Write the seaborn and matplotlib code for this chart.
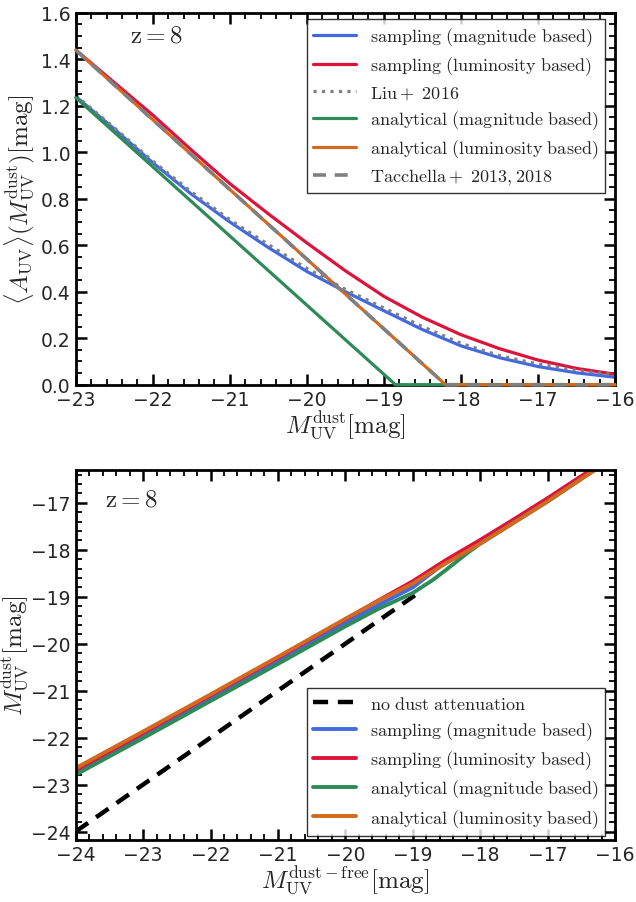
import numpy as np
import pandas as pd
import matplotlib
matplotlib.use("Agg")
import matplotlib.pyplot as plt
import seaborn as sns
from matplotlib.ticker import MultipleLocator

# ---- top panel: mean attenuation vs dust-attenuated magnitude (z=8)
m_dust = [-23, -22.5, -22, -21.5, -21, -20.5, -20, -19.5, -19, -18.5, -18, -17.5, -17, -16.5, -16]
a_samp_mag = [1.24, 1.10, 0.955, 0.82, 0.70, 0.59, 0.487, 0.40, 0.318, 0.237, 0.167, 0.116, 0.078, 0.051, 0.032]
a_samp_lum = [1.44, 1.30, 1.16, 1.01, 0.865, 0.735, 0.61, 0.49, 0.38, 0.29, 0.215, 0.155, 0.106, 0.07, 0.045]
a_liu = [1.245, 1.105, 0.962, 0.83, 0.71, 0.603, 0.50, 0.41, 0.33, 0.25, 0.178, 0.125, 0.089, 0.062, 0.042]

m_ana_mag = [-23, -18.85, -16]
a_ana_mag = [1.235, 0.0, 0.0]
m_ana_lum = [-23, -18.2, -16]
a_ana_lum = [1.44, 0.0, 0.0]
m_tacc = [-23, -18.2, -16]
a_tacc = [1.44, 0.0, 0.0]

# ---- bottom panel: dust-attenuated vs dust-free magnitude
m_free = [-24, -23, -22, -21, -20, -19.5, -19, -18.5, -18, -17.5, -17, -16.5, -16]
md_samp_mag = [-22.73, -21.94, -21.15, -20.36, -19.55, -19.17, -18.80, -18.25, -17.82, -17.37, -16.92, -16.45, -15.98]
md_samp_lum = [-22.69, -21.90, -21.10, -20.30, -19.48, -19.07, -18.67, -18.21, -17.79, -17.35, -16.90, -16.43, -15.96]
md_ana_lum = [-22.65, -21.87, -21.08, -20.28, -19.47, -19.08, -18.72, -18.28, -17.87, -17.42, -16.97, -16.49, -16.02]
m_free_ana_mag = [-24, -23, -22, -21, -20, -19.5, -19, -18.7, -18.5, -18.2, -18, -17.5, -17, -16.5, -16]
md_ana_mag = [-22.79, -22.01, -21.22, -20.43, -19.63, -19.25, -18.92, -18.64, -18.42, -18.08, -17.87, -17.42, -16.97, -16.49, -16.02]
m_nodust = [-24, -18.9]
md_nodust = [-24, -18.9]

BLUE, RED, GREEN, ORANGE = "#4169E1", "#DC143C", "#2E8B57", "#D2691E"

sns.set_style("ticks")
plt.rcParams["mathtext.fontset"] = "cm"
plt.rcParams["font.family"] = ["DejaVu Sans"]

fig = plt.figure(figsize=(6.36, 9.03), dpi=100)
ax1 = fig.add_axes([0.119, 0.5729, 0.848, 0.4119])
ax2 = fig.add_axes([0.119, 0.0687, 0.848, 0.4097])

LW = 2.3
leg_kw = dict(fontsize=13, frameon=True, fancybox=False, edgecolor="black",
              handlelength=2.4, handletextpad=0.75, borderpad=0.35, labelspacing=0.36, borderaxespad=0)

sns.lineplot(x=m_dust, y=a_samp_mag, ax=ax1, color=BLUE, lw=LW, label=r"$\rm sampling\ (magnitude\ based)$")
sns.lineplot(x=m_dust, y=a_samp_lum, ax=ax1, color=RED, lw=LW, label=r"$\rm sampling\ (luminosity\ based)$")
sns.lineplot(x=m_dust, y=a_liu, ax=ax1, color="gray", lw=LW, ls=":", label=r"$\rm Liu+\ 2016$")
# the zero-attenuation tails sit on the x axis, draw them over the spine
sns.lineplot(x=m_ana_mag, y=a_ana_mag, ax=ax1, color=GREEN, lw=LW, clip_on=False, zorder=3,
             label=r"$\rm analytical\ (magnitude\ based)$")
sns.lineplot(x=m_ana_lum, y=a_ana_lum, ax=ax1, color=ORANGE, lw=LW, clip_on=False, zorder=3,
             label=r"$\rm analytical\ (luminosity\ based)$")
sns.lineplot(x=m_tacc, y=a_tacc, ax=ax1, color="gray", lw=LW + 0.3, clip_on=False, zorder=3,
             label=r"$\rm Tacchella+\ 2013,2018$")
ax1.lines[-1].set_dashes((3.6, 2.4))

ax1.set_xlim(-23, -16)
ax1.set_ylim(0, 1.6)
ax1.xaxis.set_major_locator(MultipleLocator(1))
ax1.xaxis.set_minor_locator(MultipleLocator(0.2))
ax1.yaxis.set_major_locator(MultipleLocator(0.2))
ax1.yaxis.set_minor_locator(MultipleLocator(0.05))
ax1.set_xlabel(r"$M_{\rm UV}^{\rm dust}[\rm mag]$", fontsize=18, labelpad=0)
ax1.set_ylabel(r"$\langle A_{\rm UV}\rangle(M_{\rm UV}^{\rm dust})[\rm mag]$", fontsize=18)
ax1.yaxis.set_label_coords(-0.071, 0.5)
ax1.text(0.10, 0.975, r"$\rm z=8$", transform=ax1.transAxes, fontsize=18, va="top")
ax1.legend(loc="upper right", bbox_to_anchor=(0.9815, 0.983), **leg_kw)

sns.lineplot(x=m_nodust, y=md_nodust, ax=ax2, color="black", lw=3.2, label=r"$\rm no\ dust\ attenuation$")
ax2.lines[-1].set_dashes((3.4, 2.2))
sns.lineplot(x=m_free, y=md_samp_mag, ax=ax2, color=BLUE, lw=LW + 0.5, label=r"$\rm sampling\ (magnitude\ based)$")
sns.lineplot(x=m_free, y=md_samp_lum, ax=ax2, color=RED, lw=LW + 0.5, label=r"$\rm sampling\ (luminosity\ based)$")
sns.lineplot(x=m_free_ana_mag, y=md_ana_mag, ax=ax2, color=GREEN, lw=LW + 0.5, label=r"$\rm analytical\ (magnitude\ based)$")
sns.lineplot(x=m_free, y=md_ana_lum, ax=ax2, color=ORANGE, lw=LW + 0.5, label=r"$\rm analytical\ (luminosity\ based)$")

ax2.set_xlim(-24, -16)
ax2.set_ylim(-24.18, -16.3)
ax2.xaxis.set_major_locator(MultipleLocator(1))
ax2.xaxis.set_minor_locator(MultipleLocator(0.2))
ax2.yaxis.set_major_locator(MultipleLocator(1))
ax2.yaxis.set_minor_locator(MultipleLocator(0.2))
ax2.set_xlabel(r"$M_{\rm UV}^{\rm dust-free}[\rm mag]$", fontsize=18, labelpad=0)
ax2.set_ylabel(r"$M_{\rm UV}^{\rm dust}[\rm mag]$", fontsize=18)
ax2.yaxis.set_label_coords(-0.082, 0.5)
ax2.text(0.055, 0.955, r"$\rm z=8$", transform=ax2.transAxes, fontsize=18, va="top")
ax2.legend(loc="lower right", bbox_to_anchor=(0.9815, 0.011), **leg_kw)

for ax in (ax1, ax2):
    for s in ax.spines.values():
        s.set_linewidth(2.0)
        s.set_color("black")
    ax.tick_params(which="both", direction="in", top=True, right=True, labelsize=13.5, color="black")
    ax.tick_params(which="major", length=8, width=1.8)
    ax.tick_params(which="minor", length=4, width=1.3)
    ax.get_legend().get_frame().set_linewidth(1.0)

fig.savefig("out.png", dpi=100)
